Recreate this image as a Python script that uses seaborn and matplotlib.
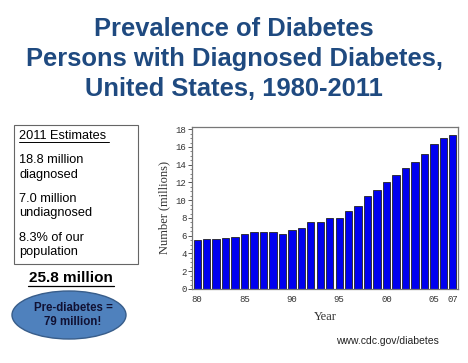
import matplotlib
matplotlib.use("Agg")
import matplotlib.pyplot as plt
import seaborn as sns
import pandas as pd
from matplotlib.patches import Ellipse, Rectangle
from matplotlib.ticker import MultipleLocator

years = list(range(1980, 2008))
values = [5.55, 5.6, 5.6, 5.75, 5.9, 6.2, 6.4, 6.4, 6.4, 6.25,
          6.6, 6.9, 7.5, 7.6, 8.05, 8.0, 8.8, 9.4, 10.5, 11.1,
          12.0, 12.8, 13.6, 14.3, 15.2, 16.3, 17.0, 17.4]
tick_years = [1980, 1985, 1990, 1995, 2000, 2005, 2007]
tick_labels = ["80", "85", "90", "95", "00", "05", "07"]

title_lines = ["Prevalence of Diabetes",
               "Persons with Diagnosed Diabetes,",
               "United States, 1980-2011"]
box_lines = ["18.8 million\ndiagnosed", "7.0 million\nundiagnosed", "8.3% of our\npopulation"]

df = pd.DataFrame({"year": years, "value": values})

sns.set_theme(style="white")
plt.rcParams['font.family'] = ['Liberation Sans', 'DejaVu Sans']

fig = plt.figure(figsize=(4.68, 3.63), dpi=100)
W, H = 468, 363

def fx(x):
    return x / W

def fy(y):
    return 1 - y / H

ax = fig.add_axes([fx(192), fy(289), fx(458) - fx(192), fy(127) - fy(289)])
sns.barplot(data=df, x="year", y="value", color="#0000F0", saturation=1,
            width=0.78, edgecolor="#222222", linewidth=0.6, ax=ax)
ax.set_ylim(0, 18.25)
ax.set_xlim(-0.55, len(years) - 0.45)
ax.yaxis.set_major_locator(MultipleLocator(2))
ax.yaxis.set_minor_locator(MultipleLocator(0.5))
ax.tick_params(axis='y', which='major', length=3, width=0.7, color="#555555",
               labelsize=6.5, labelcolor="#333333", pad=1, left=True)
ax.tick_params(axis='y', which='minor', length=1.5, width=0.5, color="#555555", left=True)
ax.set_xticks([years.index(y) for y in tick_years])
ax.set_xticklabels(tick_labels)
ax.tick_params(axis='x', length=0, labelsize=6.5, labelcolor="#333333", pad=4)
for lab in ax.get_xticklabels() + ax.get_yticklabels():
    lab.set_family(['Liberation Mono', 'DejaVu Sans Mono'])
for s in ax.spines.values():
    s.set_color("#777777")
    s.set_linewidth(0.9)
ax.set_xlabel("Year", family=['Liberation Serif', 'DejaVu Serif'], fontsize=9,
              color="#333333", labelpad=5)
ax.set_ylabel("Number (millions)", family=['Liberation Serif', 'DejaVu Serif'], fontsize=9,
              color="#333333", labelpad=4)

title_color = "#1F4A80"
for i, line in enumerate(title_lines):
    fig.text(0.5, fy(29 + i * 30), line, ha='center', va='center', fontsize=18.4,
             fontweight='bold', color=title_color)

# Left info box
fig.patches.append(Rectangle((fx(14), fy(264)), fx(138) - fx(14), fy(125) - fy(264),
                             transform=fig.transFigure, facecolor='white',
                             edgecolor='#666666', linewidth=0.8))
fig.text(fx(19), fy(136), "2011 Estimates", ha='left', va='center', fontsize=9.2,
         color='black')
fig.lines.append(plt.Line2D([fx(19), fx(109)], [fy(142), fy(142)], transform=fig.transFigure,
                            color='black', linewidth=0.7))
ys = [167.5, 206, 245]
for y, t in zip(ys, box_lines):
    fig.text(fx(19), fy(y), t, ha='left', va='center', fontsize=9.2, color='black',
             linespacing=1.3)

fig.text(fx(71), fy(278), "25.8 million", ha='center', va='center', fontsize=11,
         fontweight='bold', color='black')
fig.lines.append(plt.Line2D([fx(28), fx(114)], [fy(286), fy(286)], transform=fig.transFigure,
                            color='black', linewidth=0.9))

fig.patches.append(Ellipse((fx(69), fy(315)), fx(114), 48 / H, transform=fig.transFigure,
                           facecolor='#4F81BD', edgecolor='#385D8A', linewidth=1.0))
fig.text(fx(73), fy(315), "Pre-diabetes =\n79 million!", ha='center', va='center',
         fontsize=8.3, fontweight='bold', color='#111133', linespacing=1.15)

fig.text(fx(387), fy(341), "www.cdc.gov/diabetes", ha='center', va='center', fontsize=7.5,
         color='#222222')

fig.savefig("out.png", dpi=100, facecolor='white')
